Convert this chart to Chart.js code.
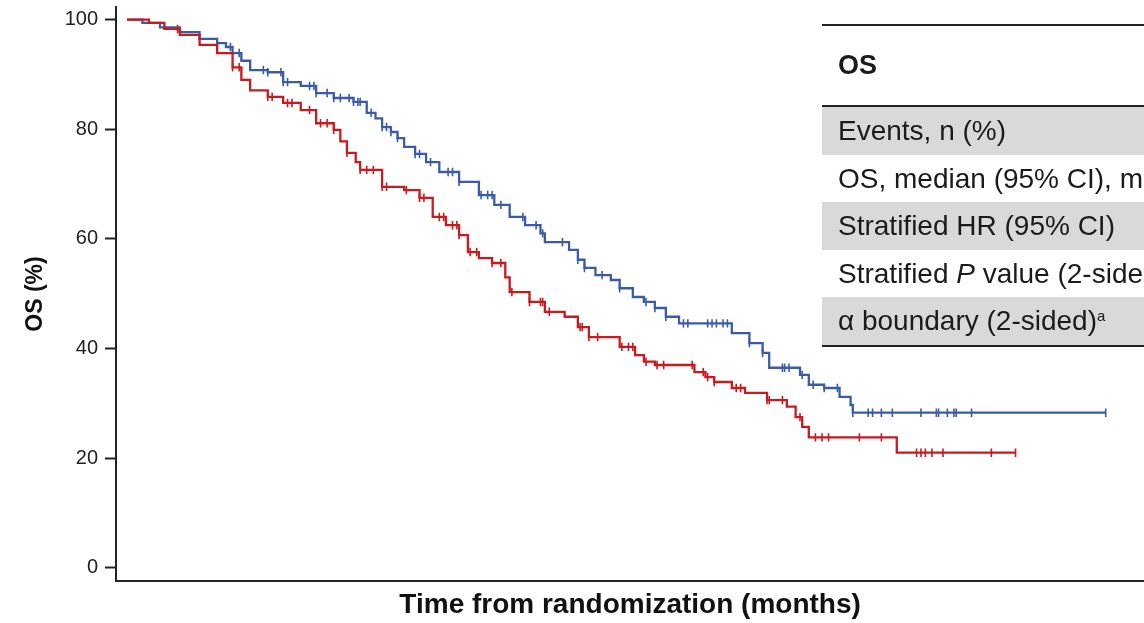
<!DOCTYPE html>
<html>
<head>
<meta charset="utf-8">
<title>Overall survival</title>
<script src="https://cdn.jsdelivr.net/npm/chart.js@4.4.1/dist/chart.umd.min.js"></script>
<style>
  html, body { margin: 0; padding: 0; background: #fff; overflow: hidden; }
  #wrap { position: relative; width: 1150px; height: 623px; }
  #osChart { display: block; }
  #osTable {
    position: absolute; left: 822px; top: 24px; width: 420px;
    font-family: "Liberation Sans", Arial, sans-serif; color: #1b1b1b;
    white-space: nowrap;
    border-top: 2px solid #222; border-bottom: 2px solid #222;
  }
  #osTable .head {
    height: 79px; line-height: 79px; padding-left: 16px;
    font-size: 27px; font-weight: bold;
    border-bottom: 2px solid #222;
  }
  #osTable .row { height: 47.6px; line-height: 47.6px; padding-left: 16px; font-size: 28px; }
  #osTable .shade { background: #d9d9d9; }
  #osTable sup { font-size: 15px; vertical-align: 9px; line-height: 0; }
</style>
</head>
<body>
<div id="wrap">
  <canvas id="osChart" width="1150" height="623"></canvas>
  <div id="osTable">
    <div class="head">OS</div>
    <div class="row shade">Events, n (%)</div>
    <div class="row">OS, median (95% CI), months</div>
    <div class="row shade">Stratified HR (95% CI)</div>
    <div class="row">Stratified <i>P</i> value (2-sided)</div>
    <div class="row shade">α boundary (2-sided)<sup>a</sup></div>
  </div>
</div>
<script>
// Kaplan-Meier steps: event times (months) and survival (%) after each drop
const armATimes = [0, 0.7, 1.5, 2.4, 3.3, 4.1, 4.5, 4.8, 5.2, 5.6, 6.4, 7.1, 7.9, 8.6, 9.4, 10.3, 10.9, 11.3, 11.6, 12.0,
  12.3, 12.6, 13.1, 13.6, 14.2, 15.1, 16.0, 16.7, 17.4, 18.1, 18.8, 19.0, 20.1, 20.5, 20.8, 21.3, 22.0, 22.4, 23.0,
  23.5, 24.0, 24.5, 25.1, 27.5, 28.3, 28.9, 29.2, 30.6, 31.0, 31.7, 32.4, 32.9, 33.0];
const armASurv = [100, 99.4, 98.6, 97.7, 96.5, 95.7, 95.0, 93.9, 92.5, 90.8, 90.4, 88.6, 87.9, 86.6, 85.7, 85.0, 83.0, 82.0, 80.4, 79.5,
  78.4, 76.8, 75.5, 74.0, 72.2, 70.4, 68.0, 66.2, 64.0, 62.5, 61.0, 59.4, 58.0, 56.2, 54.7, 53.4, 52.5, 51.0, 49.4,
  48.5, 47.4, 45.8, 44.6, 42.8, 41.0, 39.2, 36.5, 35.2, 33.4, 32.8, 31.2, 29.7, 28.3];
const armACensor = [4.7, 5.1, 6.2, 6.4, 7.0, 7.1, 7.3, 8.3, 8.5, 8.6, 9.1, 9.4, 9.7, 10.1, 10.3, 10.5, 10.6, 11.1, 11.6, 11.8,
  12.0, 12.3, 13.1, 13.3, 13.8, 14.6, 14.8, 15.1, 16.1, 16.4, 16.6, 17.0, 18.0, 18.6, 18.9, 19.8, 20.5, 20.8, 21.6, 22.4,
  23.6, 24.0, 24.5, 25.3, 25.5, 26.4, 26.6, 26.8, 27.1, 27.3, 28.3, 28.9, 29.8, 29.9, 30.1, 30.7, 31.2, 31.7, 32.3, 33.0,
  33.7, 33.9, 34.3, 34.8, 36.1, 36.8, 36.9, 37.3, 37.6, 37.7, 38.4, 44.5];

const armBTimes = [0, 1.0, 1.7, 2.4, 3.3, 4.1, 4.8, 5.2, 5.6, 6.4, 7.1, 7.9, 8.6, 9.4, 9.7, 10.0, 10.4, 10.6, 11.6, 12.6,
  13.3, 13.9, 14.5, 15.1, 15.5, 16.0, 16.6, 17.2, 17.4, 18.3, 19.0, 19.9, 20.5, 21.0, 22.4, 23.1, 23.5, 24.0, 25.8,
  26.3, 26.7, 27.5, 28.1, 29.1, 30.0, 30.4, 30.7, 31.0, 35.0];
const armBSurv = [100, 99.4, 98.3, 97.2, 95.4, 93.9, 91.3, 89.0, 87.1, 85.9, 84.8, 83.5, 81.1, 79.9, 77.8, 75.7, 74.0, 72.6, 69.5, 68.9,
  67.5, 64.0, 62.5, 60.7, 57.6, 56.5, 55.6, 53.0, 50.3, 48.5, 46.7, 45.8, 43.9, 42.1, 40.3, 38.8, 37.6, 37.0, 35.7,
  34.8, 33.9, 32.8, 31.9, 30.6, 29.4, 27.5, 25.7, 23.8, 21.0];
const armBCensor = [2.3, 4.8, 5.1, 6.4, 6.6, 7.3, 7.5, 8.3, 8.8, 9.1, 9.4, 10.0, 10.6, 10.9, 11.2, 11.6, 11.8, 12.7, 13.3, 13.5,
  14.2, 14.4, 14.8, 15.0, 15.1, 15.6, 15.9, 16.6, 17.0, 17.5, 18.3, 18.8, 18.9, 19.2, 20.6, 20.7, 21.0, 21.4, 22.5, 22.8,
  23.0, 23.6, 24.1, 24.4, 25.7, 26.2, 26.4, 26.7, 27.7, 27.9, 29.1, 29.2, 29.8, 30.6, 31.3, 31.6, 31.9, 33.3, 34.3, 35.9,
  36.1, 36.3, 36.6, 37.1, 39.3, 40.4];

const yTicks = [0, 20, 40, 60, 80, 100];

const blue = '#3a5ba8';
const red = '#c81a1f';
const fontFamily = '"Liberation Sans", Arial, sans-serif';

// survival value in effect at time t
function survAt(times, surv, t) {
  let s = surv[0];
  for (let i = 0; i < times.length; i++) {
    if (times[i] <= t) s = surv[i];
  }
  return s;
}

// step curve runs until the last censored patient
function curvePoints(times, surv, censor) {
  const pts = times.map((t, i) => ({ x: t, y: surv[i] }));
  pts.push({ x: censor[censor.length - 1], y: surv[surv.length - 1] });
  return pts;
}

function censorPoints(times, surv, censor) {
  return censor.map(t => ({ x: t, y: survAt(times, surv, t) }));
}

function curveDataset(points, color) {
  return {
    data: points,
    showLine: true,
    stepped: true,
    borderColor: color,
    borderWidth: 2.3,
    pointRadius: 0,
    fill: false
  };
}

function tickDataset(points, color) {
  return {
    data: points,
    showLine: false,
    pointStyle: 'line',
    rotation: 90,
    pointRadius: 4.2,
    pointBorderWidth: 1.6,
    borderColor: color,
    backgroundColor: color
  };
}

Chart.defaults.font.family = fontFamily;

// canvas is a few px wider than the window: the point overflow padding
// on the right then falls outside, so the x axis runs to the edge
const ctx = document.getElementById('osChart').getContext('2d');
new Chart(ctx, {
  type: 'scatter',
  data: {
    datasets: [
      curveDataset(curvePoints(armBTimes, armBSurv, armBCensor), red),
      tickDataset(censorPoints(armBTimes, armBSurv, armBCensor), red),
      curveDataset(curvePoints(armATimes, armASurv, armACensor), blue),
      tickDataset(censorPoints(armATimes, armASurv, armACensor), blue)
    ]
  },
  options: {
    responsive: false,
    animation: false,
    layout: { padding: { top: 7, right: 0, bottom: 0, left: 0 } },
    plugins: {
      legend: { display: false },
      tooltip: { enabled: false }
    },
    scales: {
      x: {
        type: 'linear',
        min: -0.5,
        max: 46.25,
        grid: { display: false },
        border: { display: true, color: '#222', width: 2 },
        ticks: { display: false },
        title: {
          display: true,
          text: 'Time from randomization (months)',
          color: '#111',
          font: { size: 28, weight: 'bold' },
          padding: { top: 0, bottom: 1 }
        },
        afterFit: s => { s.height = 42; s.paddingLeft = 0; s.paddingRight = 0; }
      },
      y: {
        type: 'linear',
        min: -2.4,
        max: 102.3,
        afterBuildTicks: s => { s.ticks = yTicks.map(v => ({ value: v })); },
        grid: {
          display: true,
          drawOnChartArea: false,
          drawTicks: true,
          tickLength: 11,
          tickColor: '#222',
          tickWidth: 2
        },
        border: { display: true, color: '#222', width: 2 },
        ticks: { padding: 7, color: '#222', font: { size: 20 } },
        title: {
          display: true,
          text: 'OS (%)',
          color: '#111',
          font: { size: 23, weight: 'bold' },
          padding: { top: 22, bottom: 0 }
        },
        afterFit: s => { s.width = 116; s.paddingTop = 0; s.paddingBottom = 0; }
      }
    }
  }
});
</script>
</body>
</html>
